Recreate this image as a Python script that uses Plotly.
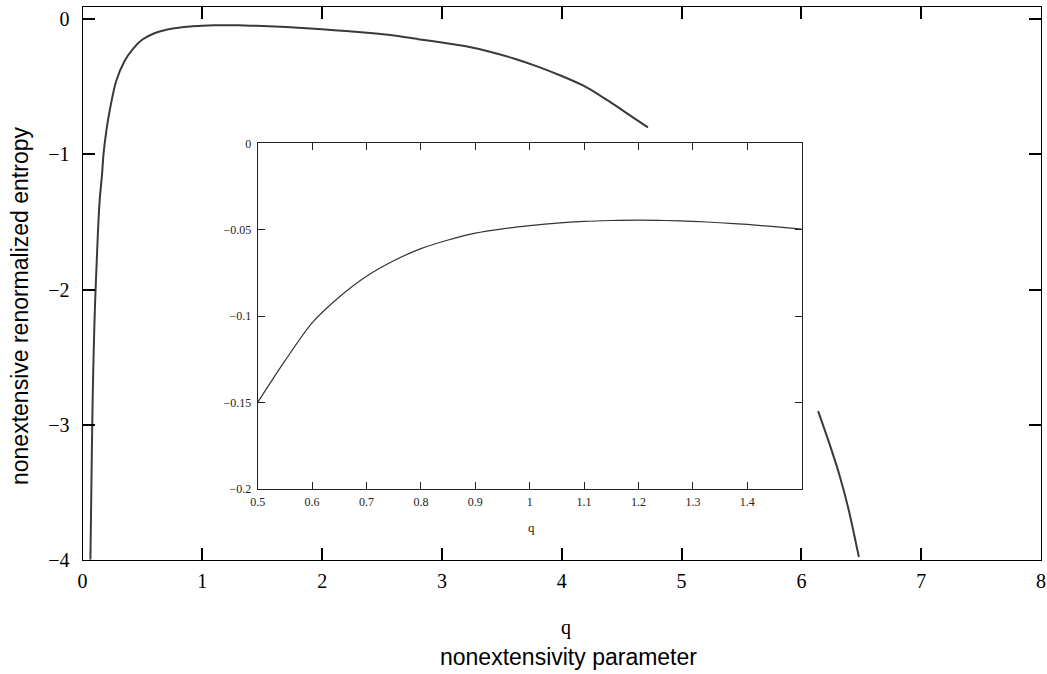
import plotly.graph_objects as go

W, H = 1047, 674

# Main curve (q, nonextensive renormalized entropy)
main_q = [0.066, 0.072, 0.078, 0.085, 0.095, 0.105, 0.117, 0.13, 0.145, 0.163, 0.175,
          0.2, 0.23, 0.28, 0.35, 0.42, 0.5, 0.6, 0.7, 0.8, 0.9, 1.0, 1.1, 1.2, 1.3,
          1.4, 1.5, 1.6, 1.8, 2.0, 2.2, 2.4, 2.6, 2.8, 3.0, 3.2, 3.4, 3.6, 3.8, 4.0,
          4.2, 4.4, 4.6, 4.72]
main_s = [-4.0, -3.6, -3.2, -2.8, -2.4, -2.1, -1.83, -1.55, -1.32, -1.15, -1.0,
          -0.82, -0.66, -0.46, -0.31, -0.22, -0.15, -0.103, -0.077, -0.062, -0.053, -0.048, -0.045, -0.0445, -0.045,
          -0.047, -0.05, -0.054, -0.062, -0.074, -0.087, -0.102, -0.12, -0.147, -0.172, -0.2, -0.24, -0.29, -0.35, -0.42,
          -0.5, -0.61, -0.73, -0.8]

# Second branch at large q
tail_q = [6.14, 6.23, 6.32, 6.40, 6.48]
tail_s = [-2.9, -3.13, -3.38, -3.65, -3.98]

# Inset (zoom on 0.5 <= q <= 1.5)
inset_q = [0.5, 0.55, 0.6, 0.65, 0.7, 0.75, 0.8, 0.85, 0.9, 0.95, 1.0, 1.05, 1.1,
           1.15, 1.2, 1.25, 1.3, 1.35, 1.4, 1.45, 1.5]
inset_s = [-0.15, -0.126, -0.104, -0.089, -0.077, -0.068, -0.061, -0.056, -0.052, -0.0495,
           -0.0477, -0.0462, -0.0452, -0.0447, -0.0445, -0.0447, -0.0452, -0.046, -0.047,
           -0.0483, -0.0497]

main_xticks = [0, 1, 2, 3, 4, 5, 6, 7, 8]
main_yticks = [0, -1, -2, -3, -4]
inset_xticks = [0.5, 0.6, 0.7, 0.8, 0.9, 1.0, 1.1, 1.2, 1.3, 1.4]
inset_yticks = [0, -0.05, -0.1, -0.15, -0.2]

ylabel = "nonextensive renormalized entropy"
xlabel_sym = "q"
xlabel = "nonextensivity parameter"
inset_xlabel = "q"

SERIF = "Liberation Serif, Times New Roman, serif"
SANS = "Liberation Sans, Arial, sans-serif"

def px_x(p):
    return p / W

def px_y(p):
    return 1 - p / H

fig = go.Figure()
fig.add_trace(go.Scatter(x=main_q, y=main_s, mode="lines", xaxis="x", yaxis="y",
                         line=dict(color="#3a3a3a", width=2, shape="spline", smoothing=0.6),
                         showlegend=False, hoverinfo="skip"))
fig.add_trace(go.Scatter(x=tail_q, y=tail_s, mode="lines", xaxis="x", yaxis="y",
                         line=dict(color="#3a3a3a", width=2, shape="spline", smoothing=0.6),
                         showlegend=False, hoverinfo="skip"))
fig.add_trace(go.Scatter(x=inset_q, y=inset_s, mode="lines", xaxis="x2", yaxis="y2",
                         line=dict(color="#333333", width=1.2, shape="spline", smoothing=0.8),
                         showlegend=False, hoverinfo="skip"))

main_ax = dict(showgrid=False, zeroline=False, showline=True, linecolor="black", linewidth=1,
               ticks="inside", ticklen=12, tickwidth=2, tickcolor="black", mirror="ticks",
               automargin=False, tickfont=dict(family=SERIF, size=20, color="black"))
inset_ax = dict(showgrid=False, zeroline=False, showline=True, linecolor="#222222", linewidth=1,
                ticks="inside", ticklen=7, tickwidth=1, tickcolor="#222222", mirror="ticks",
                automargin=False, tickfont=dict(family=SERIF, size=12, color="#222222"))

fig.update_layout(
    autosize=True,
    margin=dict(l=0, r=0, t=0, b=0, pad=0),
    paper_bgcolor="white", plot_bgcolor="white",
    xaxis=dict(main_ax, domain=[px_x(82.5), px_x(1041)], range=[0, 8],
               tickmode="array", tickvals=main_xticks, anchor="y", ticklabelstandoff=3),
    yaxis=dict(main_ax, domain=[px_y(559.7), px_y(7)], range=[-4, 0.091],
               tickmode="array", tickvals=main_yticks, anchor="x", ticklabelstandoff=8),
    xaxis2=dict(inset_ax, domain=[px_x(257.7), px_x(801.7)], range=[0.5, 1.5],
                tickmode="array", tickvals=inset_xticks, anchor="y2", ticklabelstandoff=2),
    yaxis2=dict(inset_ax, domain=[px_y(488.7), px_y(143.3)], range=[-0.2, 0],
                tickmode="array", tickvals=inset_yticks, anchor="x2", ticklabelstandoff=3),
    annotations=[
        dict(text=ylabel, x=px_x(20), y=px_y(306), xref="paper", yref="paper",
             textangle=-90, showarrow=False, xanchor="center", yanchor="middle",
             font=dict(family=SANS, size=23, color="black")),
        dict(text=xlabel_sym, x=px_x(566), y=px_y(627), xref="paper", yref="paper",
             showarrow=False, xanchor="center", yanchor="middle",
             font=dict(family=SERIF, size=20, color="black")),
        dict(text=xlabel, x=px_x(568), y=px_y(657), xref="paper", yref="paper",
             showarrow=False, xanchor="center", yanchor="middle",
             font=dict(family=SANS, size=23, color="black")),
        dict(text=inset_xlabel, x=px_x(531), y=px_y(527), xref="paper", yref="paper",
             showarrow=False, xanchor="center", yanchor="middle",
             font=dict(family=SERIF, size=13, color="#222222")),
    ],
)

post = ("document.documentElement.style.height='100%';"
        "document.documentElement.style.margin='0';"
        "document.body.style.height='100%';"
        "document.body.style.margin='0';"
        "document.body.style.overflow='hidden';"
        "var gd=document.getElementById('{plot_id}');"
        "gd.style.width='100vw';gd.style.height='100vh';"
        "Plotly.relayout(gd,{width:window.innerWidth,height:window.innerHeight});")

fig.write_html("out.html", default_width="100vw", default_height="100vh",
               config={"displayModeBar": False, "responsive": True},
               post_script=post)
